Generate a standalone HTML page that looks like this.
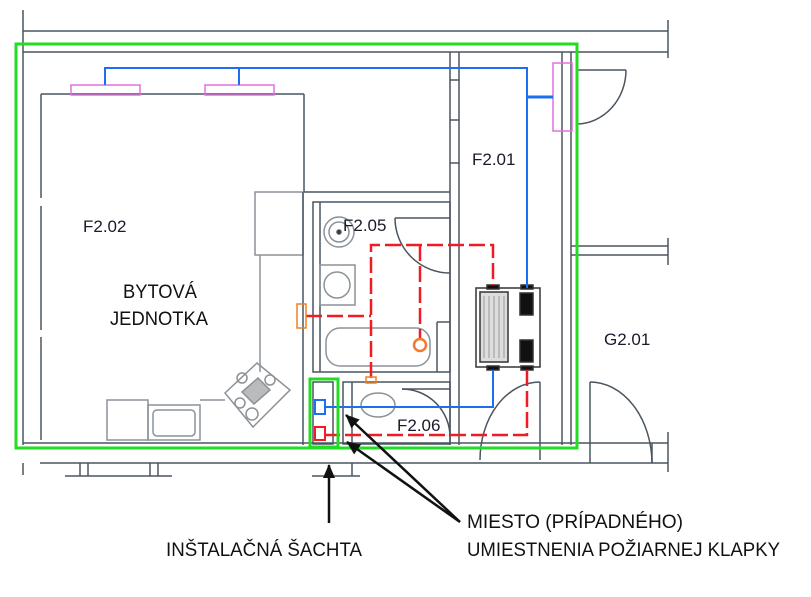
<!DOCTYPE html>
<html><head><meta charset="utf-8"><style>
html,body{margin:0;padding:0;background:#fff;}
svg{display:block;}
</style></head><body>
<svg width="811" height="597" viewBox="0 0 811 597" xmlns="http://www.w3.org/2000/svg" font-family="Liberation Sans, sans-serif">
<g fill="none" stroke="#4a5560" stroke-width="1.5">
  <line x1="23" y1="10" x2="23" y2="445"/>
  <line x1="23" y1="31" x2="668" y2="31"/>
  <line x1="23" y1="52" x2="668" y2="52"/>
  <line x1="668" y1="20" x2="668" y2="58"/>
  <line x1="562" y1="52" x2="562" y2="445"/>
  <line x1="571" y1="52" x2="571" y2="445"/>
  <line x1="571" y1="246" x2="668" y2="246"/>
  <line x1="571" y1="255" x2="668" y2="255"/>
  <line x1="668" y1="238" x2="668" y2="265"/>
  <line x1="23" y1="443" x2="668" y2="443"/>
  <line x1="40" y1="463" x2="668" y2="463"/>
  <line x1="668" y1="432" x2="668" y2="472"/>
  <line x1="65" y1="476" x2="172" y2="476"/>
  <line x1="312" y1="476" x2="360" y2="476"/>
  <line x1="80" y1="463" x2="80" y2="476"/><line x1="88" y1="463" x2="88" y2="476"/>
  <line x1="150" y1="463" x2="150" y2="476"/><line x1="158" y1="463" x2="158" y2="476"/>
  <line x1="352" y1="463" x2="352" y2="476"/>
  <line x1="23" y1="463" x2="23" y2="475"/>
  <line x1="41" y1="94" x2="41" y2="198"/>
  <line x1="41" y1="206" x2="41" y2="330"/>
  <line x1="41" y1="337" x2="41" y2="440"/>
  <line x1="41" y1="94" x2="304" y2="94"/>
  <line x1="304" y1="94" x2="304" y2="192"/>
  <line x1="304" y1="192" x2="450" y2="192"/>
  <line x1="450" y1="52" x2="450" y2="445"/>
  <line x1="459" y1="52" x2="459" y2="445"/>
  <line x1="450" y1="80" x2="459" y2="80"/><line x1="450" y1="120" x2="459" y2="120"/><line x1="450" y1="163" x2="459" y2="163"/>
  <rect x="255" y="192" width="48" height="63" stroke="#8a9298"/>
  <line x1="260" y1="255" x2="260" y2="372" stroke="#8a9298"/>
  <line x1="303" y1="192" x2="303" y2="445"/>
  <line x1="200" y1="400" x2="225" y2="400" stroke="#8a9298"/>
  <rect x="107" y="400" width="41" height="40" stroke="#8a9298"/>
  <rect x="148" y="405" width="52" height="35" stroke="#8a9298"/>
  <rect x="153" y="410" width="42" height="26" rx="4" stroke="#8a9298"/>
  <polygon points="225,393 257,363 290,390 253,427" stroke="#8a9298"/>
  <polygon points="242,392 258,378 270,390 254,404" fill="#bbb" stroke="#8a9298"/>
  <circle cx="242" cy="378" r="5" stroke="#8a9298"/><circle cx="270" cy="380" r="5" stroke="#8a9298"/>
  <circle cx="240" cy="403" r="5" stroke="#8a9298"/><circle cx="252" cy="414" r="6" stroke="#8a9298"/>
  <rect x="313" y="202" width="137" height="170"/>
  <line x1="320" y1="202" x2="320" y2="372"/>
  <circle cx="339" cy="232" r="15" stroke="#8a9298"/><circle cx="339" cy="232" r="10" stroke="#8a9298"/>
  <circle cx="339" cy="232" r="2" fill="#333"/>
  <rect x="320" y="265" width="35" height="40" stroke="#8a9298"/>
  <circle cx="337" cy="285" r="13" stroke="#8a9298"/>
  <rect x="326" y="328" width="104" height="38" rx="14" stroke="#8a9298"/>
  <line x1="437" y1="322" x2="437" y2="372"/><line x1="437" y1="322" x2="450" y2="322"/>
  <line x1="395" y1="218" x2="450" y2="218"/>
  <path d="M395 218 A55 55 0 0 0 450 273"/>
  <rect x="313" y="382" width="20" height="62"/>
  <rect x="343" y="382" width="107" height="62"/>
  <line x1="352" y1="382" x2="352" y2="444"/>
  <ellipse cx="378" cy="405" rx="17" ry="12" stroke="#8a9298"/>
  <line x1="402" y1="389" x2="450" y2="389"/>
  <path d="M402 389 A48 48 0 0 1 450 437"/>
  <line x1="540" y1="382" x2="540" y2="460"/>
  <path d="M540 382 A60 78 0 0 0 480 460"/>
  <line x1="577" y1="70" x2="626" y2="70"/>
  <path d="M626 70 A50 54 0 0 1 577 124"/>
  <line x1="590" y1="382" x2="590" y2="463"/>
  <path d="M590 382 A62 82 0 0 1 652 463"/>
  <line x1="652" y1="443" x2="652" y2="463"/>
</g>
<g stroke="#333" stroke-width="1.5" fill="#fff">
  <rect x="476" y="288" width="64" height="79"/>
  <rect x="480" y="292" width="28" height="70" fill="#ddd"/>
  <g stroke="#999" stroke-width="1"><line x1="484" y1="296" x2="484" y2="358"/><line x1="489" y1="296" x2="489" y2="358"/><line x1="494" y1="296" x2="494" y2="358"/><line x1="499" y1="296" x2="499" y2="358"/><line x1="504" y1="296" x2="504" y2="358"/></g>
  <rect x="520" y="293" width="13" height="22" fill="#111"/>
  <rect x="520" y="340" width="13" height="22" fill="#111"/>
  <rect x="487" y="285" width="12" height="4" fill="#111"/><rect x="521" y="285" width="12" height="4" fill="#111"/>
  <rect x="487" y="366" width="12" height="4" fill="#111"/><rect x="521" y="366" width="12" height="4" fill="#111"/>
</g>
<g fill="none" stroke="#e070e0" stroke-width="1.5">
  <rect x="71" y="85" width="69" height="10"/>
  <rect x="205" y="85" width="69" height="10"/>
  <rect x="553" y="63" width="19" height="68"/>
</g>
<g fill="none" stroke="#1e6ff0" stroke-width="2">
  <polyline points="105,85 105,68 527,68 527,288"/>
  <line x1="239" y1="68" x2="239" y2="85"/>
  <line x1="527" y1="97" x2="553" y2="97" stroke-width="3"/>
  <polyline points="493,370 493,407 325,407"/>
  <rect x="315" y="400" width="10" height="14"/>
</g>
<g fill="none" stroke="#ee1c24" stroke-width="2.5" stroke-dasharray="16,5">
  <polyline points="371,378 371,245 493,245 493,285"/>
  <line x1="420" y1="245" x2="420" y2="340"/>
  <line x1="306" y1="316" x2="371" y2="316"/>
  <polyline points="527,370 527,435 326,435"/>
</g>
<rect x="315" y="427" width="10" height="13" fill="none" stroke="#ee1c24" stroke-width="2"/>
<rect x="297" y="304" width="9" height="24" fill="none" stroke="#f08020" stroke-width="1.5"/>
<rect x="366" y="377" width="10" height="6" fill="none" stroke="#f08020" stroke-width="1.5"/>
<circle cx="420" cy="345" r="6" fill="none" stroke="#f07830" stroke-width="2.5"/>
<rect x="16" y="44" width="561" height="404" fill="none" stroke="#22dd22" stroke-width="3"/>
<rect x="310" y="379" width="28" height="68" fill="none" stroke="#22dd22" stroke-width="3"/>
<defs><marker id="ah" markerWidth="14" markerHeight="12" refX="13" refY="6" orient="auto" markerUnits="userSpaceOnUse"><path d="M0,0 L14,6 L0,12 z" fill="#111"/></marker></defs>
<g stroke="#111" stroke-width="2.5">
  <line x1="329" y1="523" x2="329" y2="465" marker-end="url(#ah)"/>
  <line x1="460" y1="522" x2="346" y2="415" marker-end="url(#ah)"/>
  <line x1="460" y1="522" x2="347" y2="442" marker-end="url(#ah)"/>
</g>
<g fill="#1a1a2a" font-size="17">
  <text x="83" y="232">F2.02</text>
  <text x="343" y="231">F2.05</text>
  <text x="472" y="165">F2.01</text>
  <text x="604" y="345">G2.01</text>
  <text x="397" y="431">F2.06</text>
</g>
<g fill="#111" font-size="19">
  <text x="123" y="298" textLength="74" lengthAdjust="spacingAndGlyphs">BYTOVÁ</text>
  <text x="110" y="325" textLength="98" lengthAdjust="spacingAndGlyphs">JEDNOTKA</text>
  <text x="467" y="528" textLength="216" lengthAdjust="spacingAndGlyphs">MIESTO (PRÍPADNÉHO)</text>
  <text x="467" y="556" textLength="313" lengthAdjust="spacingAndGlyphs">UMIESTNENIA POŽIARNEJ KLAPKY</text>
  <text x="166" y="556" textLength="196" lengthAdjust="spacingAndGlyphs">INŠTALAČNÁ ŠACHTA</text>
</g>
</svg>
</body></html>
